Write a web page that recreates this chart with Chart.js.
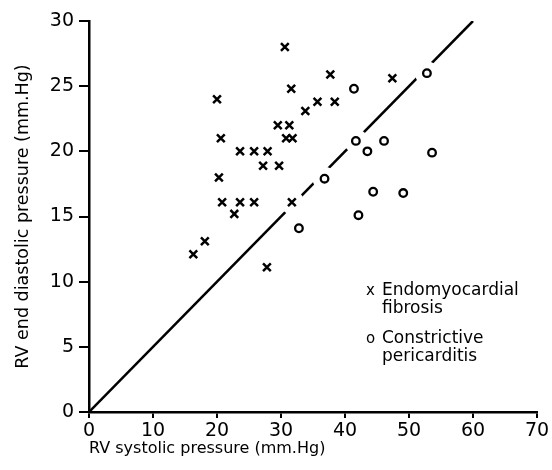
<!DOCTYPE html>
<html lang="en">
<head>
<meta charset="UTF-8">
<title>RV end diastolic vs systolic pressure</title>
<script src="https://cdn.jsdelivr.net/npm/chart.js"></script>
<style>
  html, body { margin: 0; padding: 0; background: #fff; }
  #wrap { position: relative; width: 552px; height: 470px; }
</style>
</head>
<body>
<div id="wrap"><canvas id="rvChart"></canvas></div>
<script>
// Endomyocardial fibrosis (x marks)
const emfSystolic  = [16.3, 18.1, 20.0, 20.6, 20.3, 20.8, 22.7, 23.6, 25.8, 23.6, 25.8, 27.9, 27.2, 29.7, 27.8, 29.5, 31.3, 30.8, 31.8, 31.6, 30.6, 33.8, 35.7, 38.4, 37.7, 47.4, 31.7];
const emfDiastolic = [12.1, 13.1, 24.0, 21.0, 18.0, 16.1, 15.2, 16.1, 16.1, 20.0, 20.0, 20.0, 18.9, 18.9, 11.1, 22.0, 22.0, 21.0, 21.0, 24.8, 28.0, 23.1, 23.8, 23.8, 25.9, 25.6, 16.1];

// Constrictive pericarditis (o marks)
const cpSystolic  = [32.8, 36.8, 41.4, 41.7, 43.5, 46.1, 44.4, 42.1, 49.1, 52.8, 53.6];
const cpDiastolic = [14.1, 17.9, 24.8, 20.8, 20.0, 20.8, 16.9, 15.1, 16.8, 26.0, 19.9];

// line of diastolic = half systolic
const lineSystolic  = [0, 60];
const lineDiastolic = [0, 30];

const xTickValues = [0, 10, 20, 30, 40, 50, 60, 70];
const yTickValues = [0, 5, 10, 15, 20, 25, 30];

const legendItems = [
  { mark: 'x', lines: ['Endomyocardial', 'fibrosis'] },
  { mark: 'o', lines: ['Constrictive', 'pericarditis'] }
];

const FONT = '"DejaVu Sans", sans-serif';

function toPoints(xs, ys) {
  return xs.map((x, i) => ({ x: x, y: ys[i] }));
}

const emfPoints = toPoints(emfSystolic, emfDiastolic);
const cpPoints = toPoints(cpSystolic, cpDiastolic);

// legend drawn as text inside the plot, like the original figure
const textLegend = {
  id: 'textLegend',
  afterDraw(chart) {
    const ctx = chart.ctx;
    ctx.save();
    ctx.fillStyle = '#000';
    ctx.textBaseline = 'alphabetic';
    ctx.textAlign = 'left';
    let y = 295;
    legendItems.forEach(item => {
      ctx.font = '15px ' + FONT;
      ctx.fillText(item.mark, 366, y);
      ctx.font = '17px ' + FONT;
      item.lines.forEach((line, j) => {
        ctx.fillText(line, 382, y + j * 18);
      });
      y += 48;
    });
    ctx.restore();
  }
};

new Chart(document.getElementById('rvChart'), {
  type: 'scatter',
  data: {
    datasets: [
      {
        label: 'Endomyocardial fibrosis',
        data: emfPoints,
        pointStyle: 'crossRot',
        pointRadius: 5.5,
        borderColor: '#000',
        borderWidth: 2.5,
        order: 0
      },
      {
        label: 'Constrictive pericarditis',
        data: cpPoints,
        pointStyle: 'circle',
        pointRadius: 3.8,
        backgroundColor: '#fff',
        borderColor: '#000',
        borderWidth: 2.3,
        order: 0
      },
      {
        // white gap around marks, cuts the diagonal line like the original
        label: 'gap',
        data: emfPoints.concat(cpPoints),
        pointStyle: 'circle',
        pointRadius: 12,
        backgroundColor: '#fff',
        borderWidth: 0,
        order: 1
      },
      {
        label: 'line',
        data: toPoints(lineSystolic, lineDiastolic),
        showLine: true,
        pointRadius: 0,
        borderColor: '#000',
        borderWidth: 2.5,
        order: 2
      }
    ]
  },
  options: {
    responsive: true,
    maintainAspectRatio: false,
    animation: false,
    events: [],
    layout: { padding: { left: 0, top: 21, right: 15, bottom: 0 } },
    plugins: {
      legend: { display: false },
      tooltip: { enabled: false }
    },
    scales: {
      x: {
        type: 'linear',
        min: 0,
        max: 70,
        afterBuildTicks: s => { s.ticks = xTickValues.map(v => ({ value: v })); },
        afterFit: s => { s.height = 58; },
        border: { color: '#000', width: 2.5 },
        grid: { drawOnChartArea: false, color: '#000', lineWidth: 2, tickLength: 6 },
        ticks: { color: '#000', padding: 2, font: { family: FONT, size: 19 }, maxRotation: 0 },
        title: {
          display: true,
          text: 'RV systolic pressure (mm.Hg)',
          align: 'start',
          color: '#000',
          font: { family: FONT, size: 16 },
          padding: { top: 0, bottom: 12 }
        }
      },
      y: {
        type: 'linear',
        min: 0,
        max: 30,
        afterBuildTicks: s => { s.ticks = yTickValues.map(v => ({ value: v })); },
        afterFit: s => { s.width = 89; },
        border: { color: '#000', width: 2.5 },
        grid: { drawOnChartArea: false, color: '#000', lineWidth: 2, tickLength: 10 },
        ticks: { color: '#000', padding: 5, font: { family: FONT, size: 19 } },
        title: {
          display: true,
          text: 'RV end diastolic pressure (mm.Hg)',
          color: '#000',
          font: { family: FONT, size: 17.5 },
          padding: { top: 13, bottom: 0 }
        }
      }
    }
  },
  plugins: [textLegend]
});
</script>
</body>
</html>
